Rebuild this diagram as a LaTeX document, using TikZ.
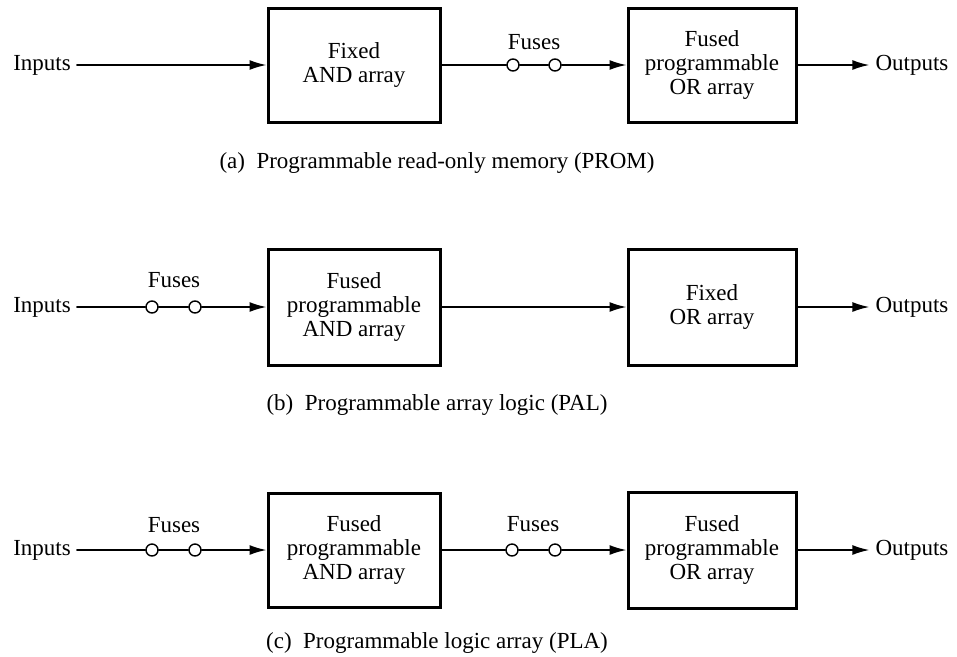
\documentclass[tikz,border=0pt]{standalone}
\usepackage{fontspec}
\setmainfont{Liberation Serif}
\usetikzlibrary{arrows.meta}

\tikzset{
  block/.style={draw, line width=3pt, minimum height=114pt, align=center, inner sep=2pt},
  fuse/.style={circle, draw, fill=white, line width=1.4pt, minimum size=12pt, inner sep=0pt},
  wire/.style={line width=1.7pt},
  feed/.style={wire, -{Latex[length=17pt,width=10pt]}},
  lbl/.style={inner sep=6pt},
}

\begin{document}
\begin{tikzpicture}[x=1pt, y=-1pt, line cap=round, font=\fontsize{23}{24}\selectfont]
\useasboundingbox (0,0) rectangle (957,656);
% (a) PROM
\node[lbl] (inA) at (42,65) {Inputs};
\node[block, minimum width=172pt] (andA) at (354,65) {Fixed\\AND array};
\node[block, minimum width=168pt] (orA)  at (712,65) {Fused\\programmable\\OR array};
\node[fuse] (fA1) at (513,65) {};
\node[fuse] (fA2) at (555,65) {};
\node[lbl] (fusA) at (534,42) {Fuses};
\node[lbl] (outA) at (912,65) {Outputs};
\node (capA) at (437,163) {(a)\enspace Programmable read-only memory (PROM)};
\draw[feed] (inA) -- (andA);
\draw[wire] (andA) -- (fA1) -- (fA2);
\draw[feed] (fA2) -- (orA);
\draw[feed] (orA) -- (outA);
% (b) PAL
\node[lbl] (inB) at (42,307) {Inputs};
\node[fuse] (fB1) at (152,307) {};
\node[fuse] (fB2) at (195,307) {};
\node[lbl] (fusB) at (174,280) {Fuses};
\node[block, minimum width=172pt, minimum height=116pt] (andB) at (354,307) {Fused\\programmable\\AND array};
\node[block, minimum width=168pt, minimum height=116pt] (orB)  at (712,307) {Fixed\\OR array};
\node[lbl] (outB) at (912,307) {Outputs};
\node (capB) at (437,405) {(b)\enspace Programmable array logic (PAL)};
\draw[wire] (inB) -- (fB1) -- (fB2);
\draw[feed] (fB2) -- (andB);
\draw[feed] (andB) -- (orB);
\draw[feed] (orB) -- (outB);
% (c) PLA
\node[lbl] (inC) at (42,550) {Inputs};
\node[fuse] (fC1) at (152,550) {};
\node[fuse] (fC2) at (195,550) {};
\node[lbl] (fusC) at (174,525) {Fuses};
\node[block, minimum width=172pt] (andC) at (354,550) {Fused\\programmable\\AND array};
\node[fuse] (fC3) at (512,550) {};
\node[fuse] (fC4) at (555,550) {};
\node[lbl] (fusD) at (533,524) {Fuses};
\node[block, minimum width=168pt, minimum height=116pt] (orC) at (712,550) {Fused\\programmable\\OR array};
\node[lbl] (outC) at (912,550) {Outputs};
\node (capC) at (437,643) {(c)\enspace Programmable logic array (PLA)};
\draw[wire] (inC) -- (fC1) -- (fC2);
\draw[feed] (fC2) -- (andC);
\draw[wire] (andC) -- (fC3) -- (fC4);
\draw[feed] (fC4) -- (orC);
\draw[feed] (orC) -- (outC);
\end{tikzpicture}
\end{document}
